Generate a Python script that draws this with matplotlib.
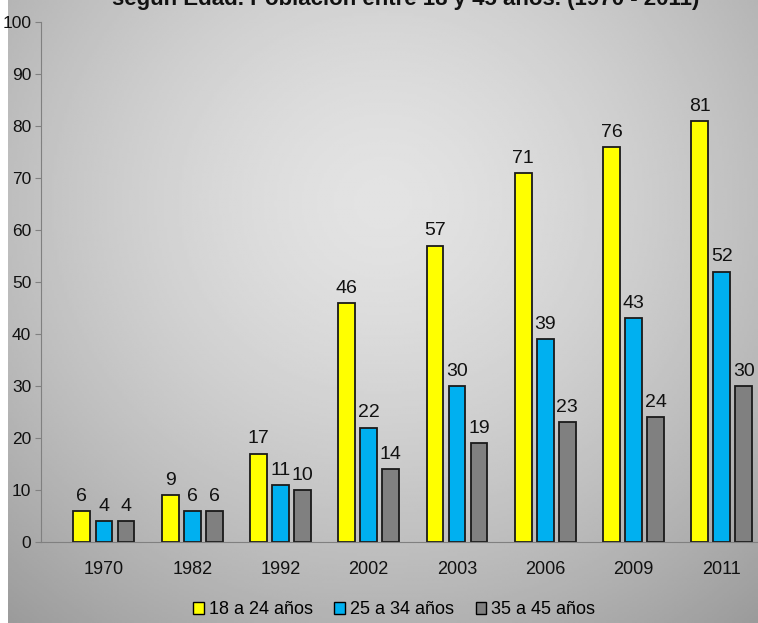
import numpy as np
import matplotlib.pyplot as plt
from matplotlib.patches import Patch

years = ['1970', '1982', '1992', '2002', '2003', '2006', '2009', '2011']
g18_24 = [6, 9, 17, 46, 57, 71, 76, 81]
g25_34 = [4, 6, 11, 22, 30, 39, 43, 52]
g35_45 = [4, 6, 10, 14, 19, 23, 24, 30]
series_names = ['18 a 24 años', '25 a 34 años', '35 a 45 años']
colors = ['#ffff00', '#00b0f0', '#808080']

plt.rcParams['font.family'] = ['Liberation Sans', 'DejaVu Sans']

fig = plt.figure(figsize=(7.58, 6.23), dpi=100)
fig.patch.set_facecolor('white')

# radial grey background
bg = fig.add_axes([0.011, 0.0, 0.989, 1.0], zorder=0)
yy, xx = np.mgrid[-1:1:300j, -1:1:300j]
r = np.sqrt((xx * 0.9) ** 2 + ((yy + 0.35) * 0.8) ** 2)
shade = 0.89 - 0.17 * np.clip(r, 0, 1.4) ** 1.5
bg.imshow(shade, cmap='gray', vmin=0, vmax=1, aspect='auto', extent=[0, 1, 0, 1])
bg.axis('off')

ax = fig.add_axes([41 / 758, 1 - 542 / 623, 1 - 41 / 758, 520 / 623], zorder=1)
ax.patch.set_alpha(0)

x = np.arange(len(years))
w = 0.19
off = 0.25
for k, (vals, c) in enumerate(zip([g18_24, g25_34, g35_45], colors)):
    pos = x + (k - 1) * off
    ax.bar(pos, vals, width=w, color=c, edgecolor='#1a1a1a', linewidth=1.3, label=series_names[k])
    for p, v in zip(pos, vals):
        ax.text(p, v + 1.2, str(v), ha='center', va='bottom', fontsize=14, color='#111111')

ax.set_ylim(0, 100)
ax.set_yticks(range(0, 101, 10))
ax.set_xlim(-0.713, 7.41)
ax.set_xticks(x)
ax.set_xticklabels(years)
ax.tick_params(axis='y', labelsize=12.5, length=4, color='#808080', pad=3, labelcolor='#111111')
ax.tick_params(axis='x', labelsize=13, length=0, pad=14, labelcolor='#111111')
for s in ['top', 'right']:
    ax.spines[s].set_visible(False)
ax.spines['left'].set_color('#808080')
ax.spines['bottom'].set_color('#808080')

fig.text(0.535, 1 - 5 / 623, 'según Edad. Población entre 18 y 45 años. (1970 - 2011)',
         ha='center', va='baseline', fontsize=16, fontweight='bold', color='#111111')

handles = [Patch(facecolor=c, edgecolor='black', label=n) for c, n in zip(colors, series_names)]
fig.legend(handles=handles, loc='center', bbox_to_anchor=(0.52, 0.021), ncol=3,
           frameon=False, fontsize=13, handlelength=0.6, handleheight=0.6,
           handletextpad=0.25, columnspacing=1.2)

fig.savefig('out.png', dpi=100)
